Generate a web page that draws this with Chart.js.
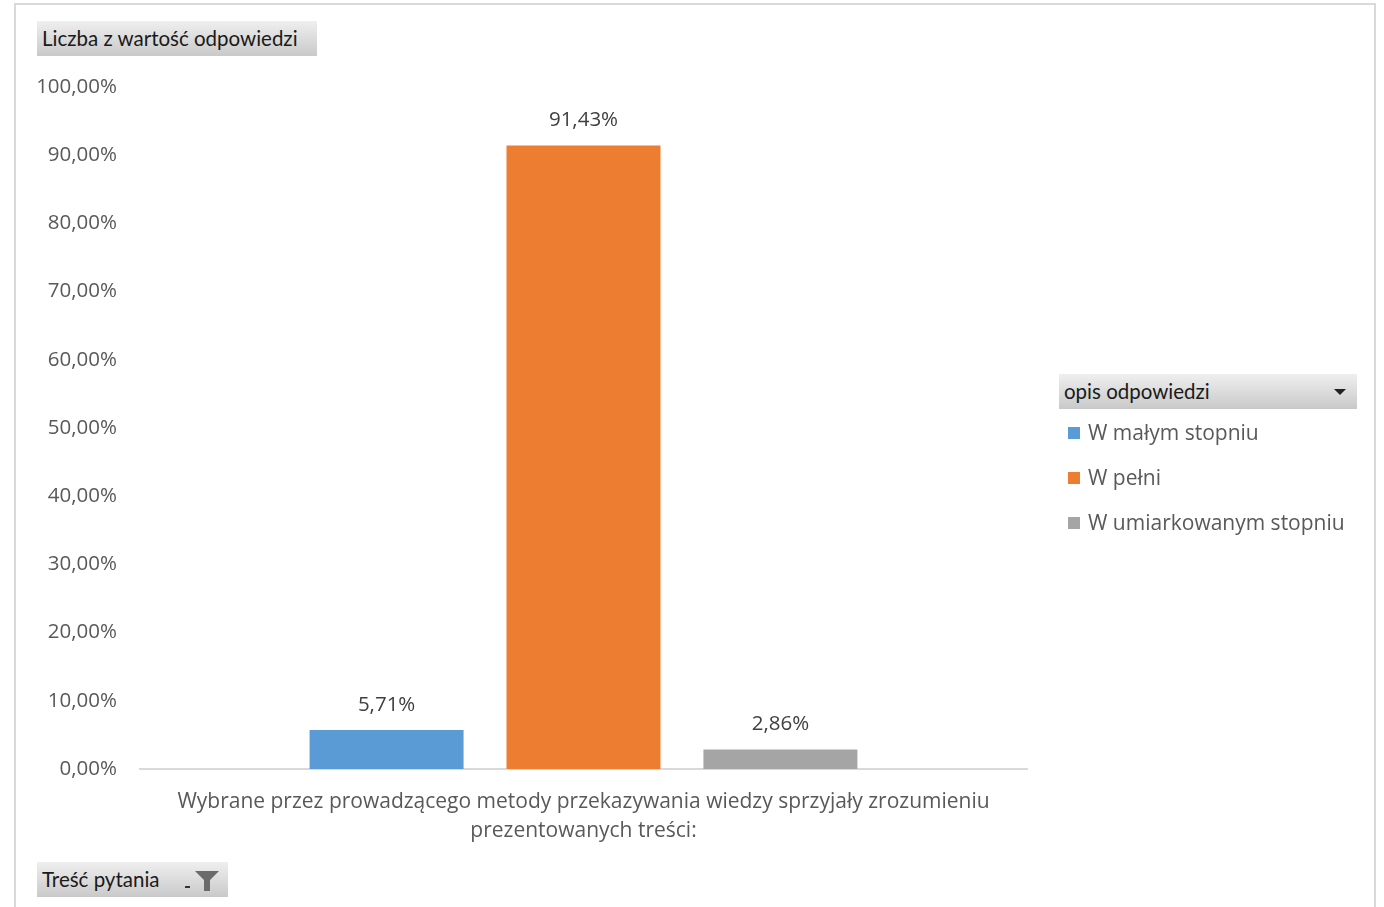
<!DOCTYPE html>
<html>
<head>
<meta charset="utf-8">
<script src="https://cdn.jsdelivr.net/npm/chart.js@4/dist/chart.umd.min.js"></script>
<style>
  html, body { margin: 0; padding: 0; background: #fff; }
  #wrap { position: relative; width: 1384px; height: 907px; overflow: hidden; font-family: Lato, "Open Sans", sans-serif; }
  #frame { position: absolute; left: 14px; top: 3px; width: 1362px; height: 920px; border: 2px solid #d9d9d9; box-sizing: border-box; }
  #chart { position: absolute; left: 0; top: 0; }
  .btn { position: absolute; height: 35px; box-sizing: border-box; background: linear-gradient(#efefef, #c9c9c9);
         color: #1a1a1a; font-size: 20.5px; line-height: 35px; padding-left: 5px; white-space: nowrap; }
  #legend { position: absolute; left: 1068px; top: 417px; color: #595959; font-size: 21px; font-family: "Open Sans", sans-serif; }
  #legend .row { height: 45px; line-height: 30px; white-space: nowrap; }
  #legend .sw { display: inline-block; width: 12px; height: 12px; margin-right: 8px; vertical-align: 1px; }
</style>
</head>
<body>
<div id="wrap">
  <div id="frame"></div>
  <canvas id="chart" width="1384" height="907"></canvas>
  <div class="btn" style="left:37px;top:21px;width:280px;">Liczba z wartość odpowiedzi</div>
  <div class="btn" style="left:1059px;top:374px;width:298px;">opis odpowiedzi
    <svg style="position:absolute;left:275px;top:15px" width="12" height="7"><polygon points="0,0 12,0 6,6" fill="#222"/></svg>
  </div>
  <div class="btn" style="left:37px;top:862px;width:191px;">Treść pytania
    <svg style="position:absolute;left:148px;top:8px" width="36" height="22">
      <rect x="0" y="16" width="5" height="2" fill="#333"/>
      <polygon points="10,1 34,1 25,10 25,21 19,21 19,10" fill="#6b6b6b"/>
    </svg>
  </div>
  <div id="legend"></div>
</div>
<script>
const categories = [['Wybrane przez prowadzącego metody przekazywania wiedzy sprzyjały zrozumieniu', 'prezentowanych treści:']];
const seriesNames = ['W małym stopniu', 'W pełni', 'W umiarkowanym stopniu'];
const seriesValues = [[0.0571], [0.9143], [0.0286]];
const seriesColors = ['#5b9bd5', '#ed7d31', '#a5a5a5'];

const FONT = '"Open Sans", sans-serif';

function pct(v) {
  return (v * 100).toFixed(2).replace('.', ',') + '%';
}

// etykiety wartości nad słupkami
const valueLabels = {
  id: 'valueLabels',
  afterDatasetsDraw(chart) {
    const ctx = chart.ctx;
    ctx.save();
    ctx.font = '20.5px ' + FONT;
    ctx.fillStyle = '#404040';
    ctx.textAlign = 'center';
    ctx.textBaseline = 'middle';
    chart.data.datasets.forEach((ds, i) => {
      chart.getDatasetMeta(i).data.forEach((bar, j) => {
        ctx.fillText(pct(ds.data[j]), bar.x, bar.y - 25);
      });
    });
    ctx.restore();
  }
};

new Chart(document.getElementById('chart'), {
  type: 'bar',
  data: {
    labels: categories,
    datasets: seriesNames.map((name, i) => ({
      label: name,
      data: seriesValues[i],
      backgroundColor: seriesColors[i],
      categoryPercentage: 0.666,
      barPercentage: 0.782
    }))
  },
  options: {
    responsive: false,
    animation: false,
    layout: { padding: { left: 0, right: 357, top: 87, bottom: 0 } },
    plugins: { legend: { display: false }, tooltip: { enabled: false } },
    scales: {
      x: {
        grid: { display: false },
        border: { display: true, color: '#d9d9d9', width: 2 },
        ticks: { color: '#595959', font: { family: FONT, size: 21, lineHeight: 1.4 }, padding: 10, maxRotation: 0 },
        afterFit(s) { s.height = 138; }
      },
      y: {
        min: 0, max: 1,
        grid: { display: false },
        border: { display: false },
        ticks: { stepSize: 0.1, color: '#595959', font: { family: FONT, size: 20.5 }, padding: 15, callback: v => pct(v) },
        afterFit(s) { s.width = 140; }
      }
    }
  },
  plugins: [valueLabels]
});

const legend = document.getElementById('legend');
seriesNames.forEach((name, i) => {
  const row = document.createElement('div');
  row.className = 'row';
  row.innerHTML = '<span class="sw" style="background:' + seriesColors[i] + '"></span>' + name;
  legend.appendChild(row);
});
</script>
</body>
</html>
